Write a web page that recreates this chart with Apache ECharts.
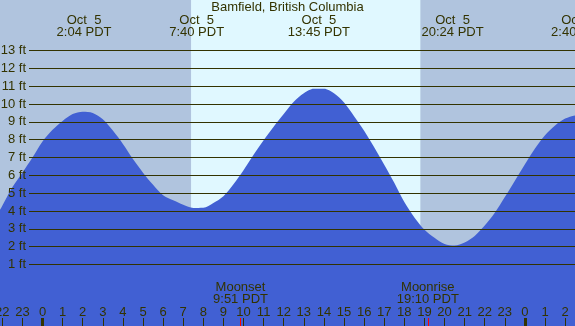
<!DOCTYPE html>
<html>
<head>
<meta charset="utf-8">
<title>Bamfield, British Columbia</title>
<script src="https://cdn.jsdelivr.net/npm/echarts@6/dist/echarts.min.js"></script>
<style>
  html, body { margin: 0; padding: 0; background: #b0c4de; }
  #chart { width: 575px; height: 326px; }
</style>
</head>
<body>
<div id="chart"></div>
<script>
// hours after midnight Oct 5 (PDT), every half hour
const tideHours = [-2.5, -2, -1.5, -1, -0.5, 0, 0.5, 1, 1.5, 2,
  2.5, 3, 3.5, 4, 4.5, 5, 5.5, 6, 6.5, 7,
  7.5, 8, 8.5, 9, 9.5, 10, 10.5, 11, 11.5, 12,
  12.5, 13, 13.5, 14, 14.5, 15, 15.5, 16, 16.5, 17,
  17.5, 18, 18.5, 19, 19.5, 20, 20.5, 21, 21.5, 22,
  22.5, 23, 23.5, 24, 24.5, 25, 25.5, 26, 26.5, 27]
// tide height in ft
const tideFeet = [3.3, 4.3, 5.33, 6.15, 7.0, 7.9, 8.55, 9.05, 9.44, 9.57,
  9.5, 9.15, 8.51, 7.76, 6.91, 6.15, 5.47, 4.88, 4.6, 4.35,
  4.17, 4.18, 4.45, 4.83, 5.5, 6.29, 7.15, 7.97, 8.73, 9.44,
  10.12, 10.6, 10.85, 10.85, 10.6, 10.08, 9.32, 8.5, 7.58, 6.6,
  5.58, 4.5, 3.64, 2.95, 2.5, 2.15, 2.06, 2.23, 2.6, 3.18,
  3.9, 4.78, 5.7, 6.62, 7.5, 8.25, 8.8, 9.18, 9.36, 9.38]

// hour axis range (a bit wider than the picture, the grid runs off both edges)
const hourMin = -3
const hourMax = 27
// hour ticks along the bottom
const hourTicks = [-2, -1, 0, 1, 2, 3, 4, 5, 6, 7, 8, 9, 10, 11, 12, 13, 14,
  15, 16, 17, 18, 19, 20, 21, 22, 23, 24, 25, 26]

// high / low tide labels along the top
const eventHours = [2.067, 7.667, 13.75, 20.4, 26.667]
const eventLabels = ['Oct  5\n2:04 PDT', 'Oct  5\n7:40 PDT', 'Oct  5\n13:45 PDT', 'Oct  5\n20:24 PDT', 'Oct  6\n2:40 PDT']

// sun and moon
const sunrise = 7.39
const sunset = 18.81
const moonHours = [9.85, 19.167]
const moonLabels = ['Moonset\n9:51 PDT', 'Moonrise\n19:10 PDT']
const midnightHours = [0, 24]

// horizontal reference lines (ft)
const feetLines = [1, 2, 3, 4, 5, 6, 7, 8, 9, 10, 11, 12, 13]

const textColor = '#333300'
const font = 'Liberation Sans, Arial, sans-serif'
const nightColor = '#b0c4de'
const dayColor = '#e0f8ff'
const waterColor = '#4160d3'

const chart = echarts.init(document.getElementById('chart'))

// short vertical tick from y 318 down to the bottom edge
function tick(h, width, color) {
  return [
    { xAxis: h, y: 318, label: { show: false }, lineStyle: { width: width, color: color } },
    { xAxis: h, y: 326 }
  ]
}

const ftLineData = feetLines.map(v => [
  { x: 29, yAxis: v, label: { show: true, formatter: v + ' ft' } },
  { x: 575, yAxis: v }
])
const hourTickData = hourTicks.map(h => tick(h, 1, textColor))
const midnightData = midnightHours.map(h => tick(h, 3, textColor))
const moonTickData = moonHours.map(h => tick(h, 1, '#ff0000'))

const eventPoints = eventHours.map((h, i) => ({ xAxis: h, y: 26.5, label: { formatter: eventLabels[i] } }))
const moonPoints = moonHours.map((h, i) => ({ xAxis: h, y: 293.5, label: { formatter: moonLabels[i] } }))

const option = {
  animation: false,
  backgroundColor: nightColor,
  title: {
    text: 'Bamfield, British Columbia',
    left: 'center',
    top: 1,
    padding: 0,
    textStyle: { fontSize: 13, fontWeight: 'normal', color: textColor, fontFamily: font }
  },
  // 20.1 px per hour, midnight at x = 42.5
  grid: { left: -17.81, right: -10.25, top: 0, bottom: 0, containLabel: false, outerBoundsMode: 'none' },
  xAxis: {
    type: 'value',
    min: hourMin,
    max: hourMax,
    interval: 1,
    z: 10,
    axisLine: { show: false },
    splitLine: { show: false },
    axisTick: { show: false }, // drawn with markLine below
    axisLabel: {
      inside: true,
      margin: 7,
      fontSize: 13,
      color: textColor,
      fontFamily: font,
      hideOverlap: false,
      formatter: v => ((v % 24) + 24) % 24
    }
  },
  yAxis: {
    type: 'value',
    min: -2.449,
    max: 15.832,
    show: false
  },
  series: [
    {
      type: 'line',
      silent: true,
      smooth: 0.3,
      showSymbol: false,
      symbol: 'none',
      lineStyle: { width: 0 },
      areaStyle: { color: waterColor, opacity: 1, origin: 'start' },
      data: tideHours.map((h, i) => [h, tideFeet[i]]),
      markArea: {
        silent: true,
        data: [
          [{ xAxis: hourMin, itemStyle: { color: nightColor } }, { xAxis: sunrise }],
          [{ xAxis: sunrise, itemStyle: { color: dayColor } }, { xAxis: sunset }],
          [{ xAxis: sunset, itemStyle: { color: nightColor } }, { xAxis: hourMax }]
        ]
      },
      markLine: {
        silent: true,
        symbol: ['none', 'none'],
        lineStyle: { color: textColor, width: 1, type: 'solid' },
        label: {
          position: 'start',
          distance: 3,
          fontSize: 13,
          color: textColor,
          fontFamily: font
        },
        data: ftLineData.concat(hourTickData, midnightData, moonTickData)
      },
      markPoint: {
        silent: true,
        symbol: 'rect',
        symbolSize: 1,
        itemStyle: { color: 'rgba(0,0,0,0)' },
        label: {
          show: true,
          position: 'inside',
          fontSize: 13,
          lineHeight: 12,
          color: textColor,
          fontFamily: font
        },
        data: eventPoints.concat(moonPoints)
      }
    }
  ]
}

chart.setOption(option)
</script>
</body>
</html>
